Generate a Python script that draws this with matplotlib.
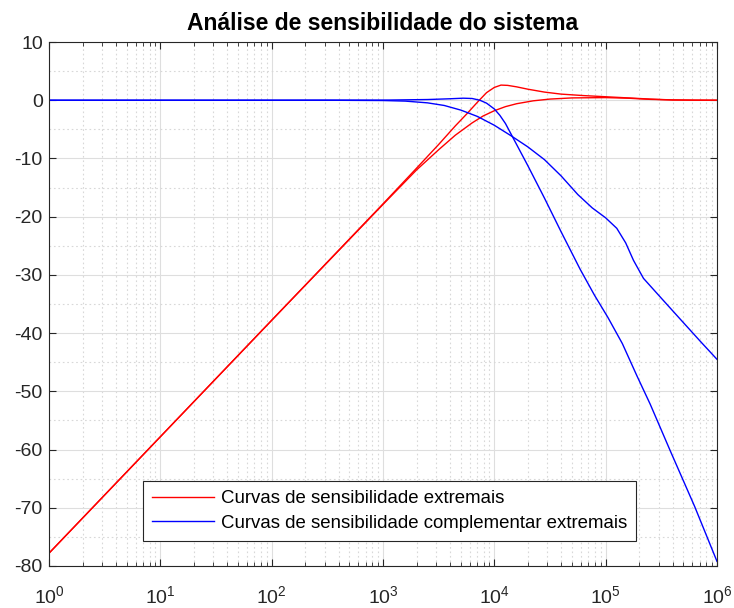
import numpy as np
import matplotlib
matplotlib.use('Agg')
import matplotlib.pyplot as plt
from matplotlib.ticker import LogLocator, MultipleLocator, FixedLocator

plt.rcParams['font.family'] = ['Liberation Sans', 'DejaVu Sans']
plt.rcParams['mathtext.fontset'] = 'custom'
plt.rcParams['mathtext.rm'] = 'Liberation Sans'
plt.rcParams['axes.unicode_minus'] = False

# frequency exponents (log10 of rad/s) and magnitudes in dB
s1_exp = [0, 1, 2, 3, 3.3, 3.5, 3.65, 3.75, 3.85, 3.93, 4.0, 4.06, 4.12,
          4.2, 4.3, 4.45, 4.6, 4.8, 5.0, 5.2, 5.4, 5.6, 5.8, 6]
s1_db = [-77.8, -57.8, -37.8, -17.8, -11.7, -7.6, -4.4, -2.4, -0.3, 1.3,
         2.2, 2.6, 2.55, 2.3, 1.9, 1.4, 1.05, 0.8, 0.6, 0.4, 0.2, 0.05, 0.0, 0.0]

s2_exp = [0, 1, 2, 3, 3.3, 3.5, 3.65, 3.8, 3.9, 4.0, 4.1, 4.2, 4.35, 4.5,
          4.7, 5.0, 5.2, 5.4, 5.6, 6]
s2_db = [-77.8, -57.8, -37.8, -17.9, -12.0, -8.5, -6.0, -3.9, -2.7, -1.8,
         -1.1, -0.6, -0.1, 0.2, 0.4, 0.45, 0.35, 0.15, 0.05, 0.0]

t1_exp = [0, 2, 3, 3.4, 3.6, 3.72, 3.8, 3.87, 3.93, 4.0, 4.05, 4.1, 4.15,
          4.3, 4.45, 4.6, 4.77, 4.9, 5.02, 5.15, 5.28, 5.4, 5.58, 5.8, 6]
t1_db = [0, 0, 0.02, 0.12, 0.25, 0.35, 0.3, 0.0, -0.5, -1.5, -2.6, -4.0, -5.8,
         -11.2, -16.8, -22.6, -29.0, -33.5, -37.3, -41.8, -47.3, -52.2, -60.2,
         -69.8, -79.2]

t2_exp = [0, 2.5, 3.0, 3.2, 3.4, 3.55, 3.7, 3.85, 4.0, 4.15, 4.3, 4.45, 4.6,
          4.75, 4.88, 5.0, 5.1, 5.18, 5.25, 5.34, 5.5, 5.67, 5.85, 6]
t2_db = [0, 0, -0.05, -0.15, -0.45, -0.9, -1.7, -2.8, -4.3, -6.1, -8.0,
         -10.2, -13.0, -16.2, -18.5, -20.2, -22.0, -24.5, -27.5, -30.6, -34.0,
         -37.6, -41.4, -44.5]

fig = plt.figure(figsize=(7.34, 6.08), dpi=100)
ax = fig.add_axes([0.0668, 0.0691, 0.91, 0.8618])

ax.semilogx(10 ** np.array(s1_exp), s1_db, color='r', lw=1.0,
            label='Curvas de sensibilidade extremais')
ax.semilogx(10 ** np.array(s2_exp), s2_db, color='r', lw=1.0)
ax.semilogx(10 ** np.array(t1_exp), t1_db, color='b', lw=1.0,
            label='Curvas de sensibilidade complementar extremais')
ax.semilogx(10 ** np.array(t2_exp), t2_db, color='b', lw=1.0)

ax.set_xlim(1, 1e6)
ax.set_ylim(-80, 10)
ax.xaxis.set_major_locator(LogLocator(base=10, numticks=10))
ax.xaxis.set_minor_locator(LogLocator(base=10, subs=np.arange(2, 10), numticks=20))
ax.yaxis.set_major_locator(MultipleLocator(10))
ax.yaxis.set_minor_locator(FixedLocator(np.arange(-75, 10, 10)))

edge = '#262626'
for sp in ax.spines.values():
    sp.set_color(edge)
    sp.set_linewidth(0.8)
ax.tick_params(which='both', direction='in', top=True, right=True,
               colors=edge, labelsize=14)
ax.tick_params(which='major', length=5)
ax.tick_params(which='minor', length=3)
ax.tick_params(axis='y', which='minor', length=0)
ax.tick_params(axis='y', pad=4.5)
ax.tick_params(axis='x', pad=14)

ax.grid(True, which='major', color='#dedede', lw=0.8, ls='-')
ax.grid(True, which='minor', color='#d8d8d8', lw=0.8, ls=(0, (1.5, 2.5)))
ax.set_axisbelow(True)

ax.set_title('Análise de sensibilidade do sistema', fontsize=16.5,
             fontweight='bold', color='black', pad=9)

leg = ax.legend(loc='upper left', bbox_to_anchor=(0.1407, 0.1622),
                borderaxespad=0, fontsize=13.4, fancybox=False, framealpha=1,
                edgecolor=edge, handlelength=3.3, borderpad=0.5,
                labelspacing=0.4, handletextpad=0.37)
leg.get_frame().set_linewidth(0.8)

fig.savefig('out.png', dpi=100)
